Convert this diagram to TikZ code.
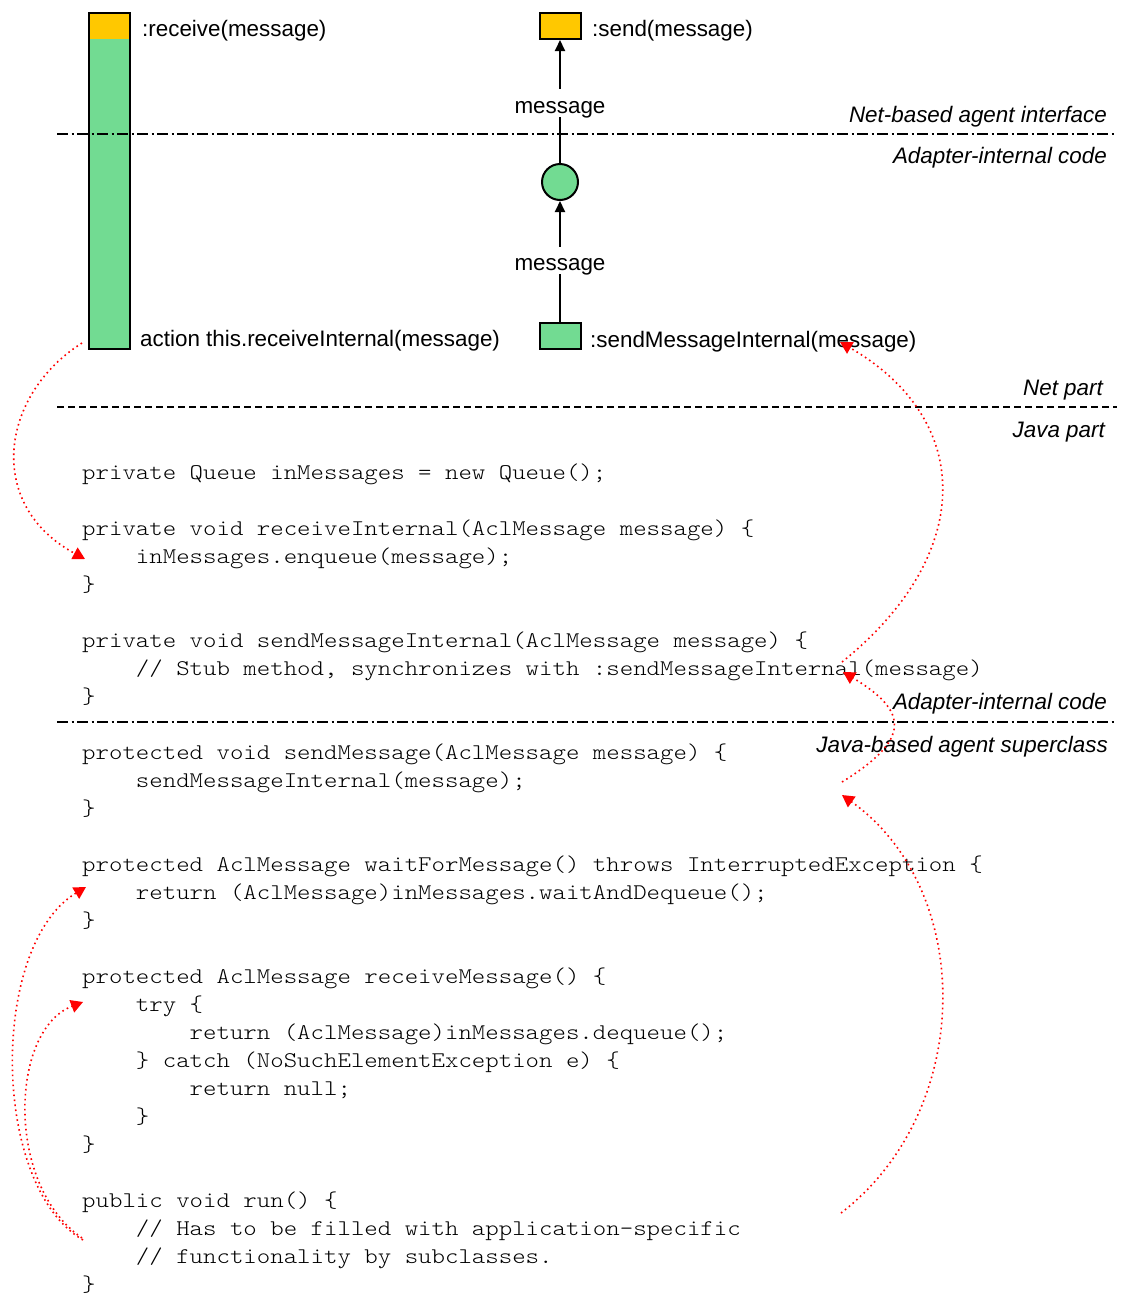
\documentclass[tikz,border=0pt]{standalone}
\usepackage{fontspec}
\setmainfont{Liberation Sans}
\newfontfamily\codefont{Latin Modern Mono Light}[FakeStretch=1.1429]
\usetikzlibrary{arrows.meta}

\definecolor{placegreen}{RGB}{114,219,146}
\definecolor{tokenyellow}{RGB}{255,200,0}
\definecolor{linkred}{RGB}{255,0,0}

\tikzset{
  lbl/.style={anchor=base west, inner sep=0pt, font=\fontsize{22.4}{28}\selectfont},
  lblit/.style={anchor=base east, inner sep=0pt, font=\fontsize{22.4}{28}\selectfont\itshape},
  msglbl/.style={anchor=base, inner sep=0pt, font=\fontsize{22.4}{28}\selectfont},
  code/.style={anchor=base west, inner sep=0pt, font=\codefont\fontsize{22.4}{28}\selectfont},
  box/.style={draw=black, line width=2pt, inner sep=0pt},
  flow/.style={line width=2pt, -{Triangle[length=11pt,width=10pt]}},
  plain/.style={line width=2pt},
  dashdot/.style={line width=2pt, dash pattern=on 11pt off 3.5pt on 2pt off 3.5pt},
  sectionline/.style={line width=2pt, dash pattern=on 7pt off 4pt},
  link/.style={draw=linkred, line width=1.6pt, dash pattern=on 1.6pt off 3.4pt,
    -{Triangle[length=12pt,width=13pt]}},
}

\begin{document}
\begin{tikzpicture}[x=1pt,y=-1pt]
\useasboundingbox (0,0) rectangle (1121,1296);

% --- net part: transitions and place ---
\node[box, fill=placegreen, minimum width=41pt, minimum height=336pt,
  path picture={\fill[tokenyellow] (path picture bounding box.north west)
    rectangle ([yshift=-26pt]path picture bounding box.north east);}]
  (recv) at (109.5,181) {};
\node[lbl] (recvlbl) at (142,36) {:receive(message)};
\node[lbl] (actlbl) at (140,346) {action this.receiveInternal(message)};

\node[box, fill=tokenyellow, minimum width=41pt, minimum height=26pt] (send) at (560,26) {};
\node[lbl] (sendlbl) at (592,36) {:send(message)};

\node[box, circle, fill=placegreen, minimum size=36pt] (pl) at (560,182) {};

\node[box, fill=placegreen, minimum width=41pt, minimum height=26pt] (int) at (560,336) {};
\node[lbl] (intlbl) at (590,347) {:sendMessageInternal(message)};

\node[msglbl, text height=24pt, text depth=4pt] (m1) at (560,113) {message};
\node[msglbl, text height=23pt, text depth=4pt] (m2) at (560,270) {message};

\draw[flow] (m1.north) -- (send.south);
\draw[plain] (m1.south) -- (pl.north);
\draw[flow] (m2.north) -- (pl.south);
\draw[plain] (m2.south) -- (int.north);

% --- layer separators ---
\draw[dashdot] (57,134) -- (1115,134);
\draw[sectionline] (57,407) -- (1117,407);
\draw[dashdot] (57,722) -- (1115,722);

\node[lblit] (l1) at (1107,122) {Net-based agent interface};
\node[lblit] (l2) at (1107,163) {Adapter-internal code};
\node[lblit] (l3) at (1103,395) {Net part};
\node[lblit] (l4) at (1105,437) {Java part};
\node[lblit] (l5) at (1107,709) {Adapter-internal code};
\node[lblit] (l6) at (1108,752) {Java-based agent superclass};

% --- Java code ---
\node[code] (c0)  at (82,479)     {private Queue inMessages = new Queue();};
\node[code] (c2)  at (82,535)     {private void receiveInternal(AclMessage message) \{};
\node[code] (c3)  at (135.76,563) {inMessages.enqueue(message);};
\node[code] (c4)  at (82,591)     {\}};
\node[code] (c6)  at (82,647)     {private void sendMessageInternal(AclMessage message) \{};
\node[code] (c7)  at (135.76,675) {// Stub method, synchronizes with :sendMessageInternal(message)};
\node[code] (c8)  at (82,703)     {\}};
\node[code] (c10) at (82,759)     {protected void sendMessage(AclMessage message) \{};
\node[code] (c11) at (135.76,787) {sendMessageInternal(message);};
\node[code] (c12) at (82,815)     {\}};
\node[code] (c14) at (82,871)     {protected AclMessage waitForMessage() throws InterruptedException \{};
\node[code] (c15) at (135.76,899) {return (AclMessage)inMessages.waitAndDequeue();};
\node[code] (c16) at (82,927)     {\}};
\node[code] (c18) at (82,983)     {protected AclMessage receiveMessage() \{};
\node[code] (c19) at (135.76,1011) {try \{};
\node[code] (c20) at (189.52,1039) {return (AclMessage)inMessages.dequeue();};
\node[code] (c21) at (135.76,1067) {\} catch (NoSuchElementException e) \{};
\node[code] (c22) at (189.52,1095) {return null;};
\node[code] (c23) at (135.76,1123) {\}};
\node[code] (c24) at (82,1151)    {\}};
\node[code] (c26) at (82,1207)    {public void run() \{};
\node[code] (c27) at (135.76,1235) {// Has to be filled with application-specific};
\node[code] (c28) at (135.76,1263) {// functionality by subclasses.};
\node[code] (c29) at (82,1291)    {\}};

% --- correspondences between net and code ---
\coordinate (a0) at (82,343);   \coordinate (a1) at (85,559);
\coordinate (b0) at (842,662);  \coordinate (b1) at (840,342);
\coordinate (s0) at (842,782);  \coordinate (s1) at (843,672);
\coordinate (d0) at (841,1213); \coordinate (d1) at (842,795);
\coordinate (e0) at (83,1240);  \coordinate (e1) at (86,887);
\coordinate (f0) at (82,1238);  \coordinate (f1) at (83,1002);

\draw[link] (a0) .. controls (0,395) and (-15,505) .. (a1);
\draw[link] (b0) .. controls (975,555) and (975,420) .. (b1);
\draw[link] (s0) .. controls (910,740) and (910,712) .. (s1);
\draw[link] (d0) .. controls (975,1110) and (975,890) .. (d1);
\draw[link] (e0) .. controls (-10,1185) and (-10,945) .. (e1);
\draw[link] (f0) .. controls (5,1185) and (10,1030) .. (f1);
\end{tikzpicture}
\end{document}
